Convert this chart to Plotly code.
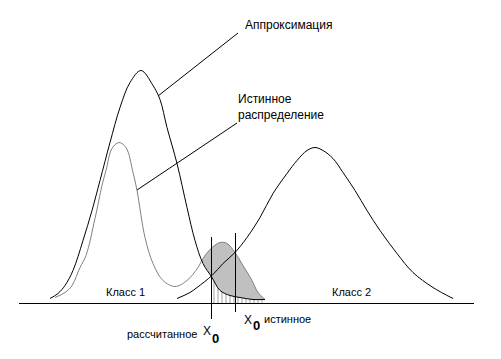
import plotly.graph_objects as go

# ---- data (x: horizontal position, h: height above the base line) ----
approx1_x = [50, 58, 65, 73, 83, 92, 100, 110, 120, 130, 141, 153, 160, 167, 177, 187, 195, 203, 212, 220, 230, 240, 253, 265]
approx1_h = [5, 10, 18, 33, 63, 93, 123, 161, 196, 221, 233, 218, 204, 176, 140, 96, 63, 40, 26, 13, 8, 6, 4, 4]

true_x = [55, 65, 72, 80, 86, 95, 102, 106, 112, 119, 126, 133, 137, 145, 153, 163, 175, 187, 198, 203, 210, 220, 227, 235, 243, 252, 258, 265]
true_h = [6, 11, 18, 36, 48, 85, 118, 133, 155, 161, 156, 131, 113, 66, 40, 23, 17, 23, 36, 45, 54, 61, 60, 51, 38, 23, 11, 4]

approx2_x = [177, 190, 197, 212, 223, 235, 247, 260, 273, 287, 297, 307, 315, 323, 333, 343, 355, 367, 380, 397, 413, 433, 453]
approx2_h = [5, 11, 16, 28, 40, 51, 66, 86, 110, 130, 143, 153, 156, 153, 145, 131, 113, 93, 73, 50, 31, 16, 5]

cross_x, cross_h = 202, 43          # where true curve rises above approximation 1
x0_calc, x0_true = 211.5, 235.5     # decision thresholds
x0_calc_span = [66.5, -15.5]
x0_true_span = [70.5, -8.5]
axis_x = [19, 474]

callout1_x, callout1_h = [158, 238], [207.5, 270.5]
callout2_x, callout2_h = [137, 237], [113.5, 180.5]

labels = {
    "approx": "Аппроксимация",
    "true1": "Истинное",
    "true2": "распределение",
    "class1": "Класс 1",
    "class2": "Класс 2",
    "calc": "рассчитанное",
    "truex": "истинное",
}

FONT = "Liberation Sans, Arial, sans-serif"

fig = go.Figure()

# hatched region under approximation-1 tail, right of calculated threshold
hx = [x for x in approx1_x if x >= 212]
hh = [h for x, h in zip(approx1_x, approx1_h) if x >= 212]
fig.add_trace(go.Scatter(
    x=[hx[0]] + hx + [hx[-1], hx[0]], y=[0] + hh + [0, 0], mode="lines", fill="toself",
    line=dict(width=0, color="#b0b0b0"), fillcolor="white",
    fillpattern=dict(shape="|", size=4, solidity=0.3, fgcolor="#b0b0b0",
                     bgcolor="white", fillmode="replace"),
    hoverinfo="skip"))

# grey filled region between true curve and approximation 1
gx = [cross_x] + [x for x in true_x if x >= 203]
gh = [cross_h] + [h for x, h in zip(true_x, true_h) if x >= 203]
bx = [x for x in approx1_x if x >= 203][::-1]
bh = [h for x, h in zip(approx1_x, approx1_h) if x >= 203][::-1]
fig.add_trace(go.Scatter(
    x=gx + bx + [cross_x], y=gh + bh + [cross_h], mode="lines", fill="toself",
    line=dict(width=0, shape="spline", color="rgba(0,0,0,0)"), fillcolor="#c0c0c0",
    hoverinfo="skip"))

# curves
fig.add_trace(go.Scatter(x=true_x, y=true_h, mode="lines",
                         line=dict(color="#808080", width=1, shape="spline"), hoverinfo="skip"))
fig.add_trace(go.Scatter(x=approx1_x, y=approx1_h, mode="lines",
                         line=dict(color="black", width=1, shape="spline"), hoverinfo="skip"))
fig.add_trace(go.Scatter(x=approx2_x, y=approx2_h, mode="lines",
                         line=dict(color="black", width=1, shape="spline"), hoverinfo="skip"))

# axis line and thresholds
fig.add_trace(go.Scatter(x=axis_x, y=[0, 0], mode="lines",
                         line=dict(color="black", width=1), hoverinfo="skip"))
fig.add_trace(go.Scatter(x=[x0_calc, x0_calc], y=x0_calc_span, mode="lines",
                         line=dict(color="black", width=1), hoverinfo="skip"))
fig.add_trace(go.Scatter(x=[x0_true, x0_true], y=x0_true_span, mode="lines",
                         line=dict(color="black", width=1), hoverinfo="skip"))

# callout lines
fig.add_trace(go.Scatter(x=callout1_x, y=callout1_h, mode="lines",
                         line=dict(color="black", width=1), hoverinfo="skip"))
fig.add_trace(go.Scatter(x=callout2_x, y=callout2_h, mode="lines",
                         line=dict(color="black", width=1), hoverinfo="skip"))

def txt(x, y, s, size, xanchor="left", bold=False):
    fig.add_annotation(x=x, y=y, xref="x", yref="y", text=(f"<b>{s}</b>" if bold else s),
                       showarrow=False, xanchor=xanchor, yanchor="middle",
                       font=dict(family=FONT, size=size, color="black"))

txt(243, 278.8, labels["approx"], 12)
txt(236, 204.8, labels["true1"], 12)
txt(236, 188.8, labels["true2"], 12)
txt(125, 11.5, labels["class1"], 11, "center")
txt(351, 11.5, labels["class2"], 11, "center")
txt(199, -30.5, labels["calc"], 11, "right")
txt(206.5, -27.2, "X", 12, "center")
txt(215.5, -34.5, "0", 13, "center", bold=True)
txt(248, -16.2, "X", 12, "center")
txt(256.5, -21.5, "0", 13, "center", bold=True)
txt(262, -15.5, labels["truex"], 11)

fig.update_layout(
    width=501, height=359, margin=dict(l=0, r=0, t=0, b=0),
    paper_bgcolor="white", plot_bgcolor="white", showlegend=False,
    xaxis=dict(range=[0, 501], visible=False, fixedrange=True),
    yaxis=dict(range=[-55.5, 303.5], visible=False, fixedrange=True),
)

fig.write_html("out.html", config={"displayModeBar": False},
               post_script="document.body.style.margin='0';document.body.style.overflow='hidden';")
